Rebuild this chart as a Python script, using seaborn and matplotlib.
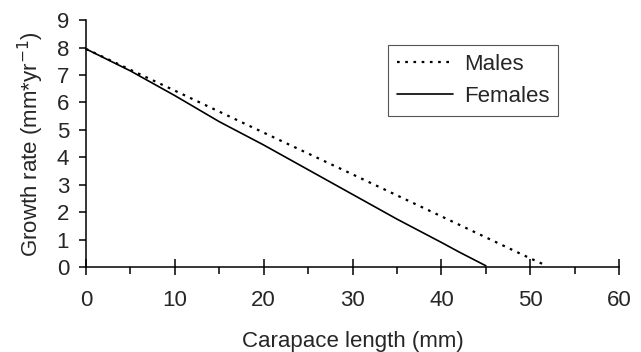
import matplotlib
matplotlib.use("Agg")
import matplotlib.pyplot as plt
import seaborn as sns
import pandas as pd
from matplotlib.ticker import MultipleLocator

male_x = [0, 10, 20, 30, 40, 50, 51.5]
male_y = [7.95, 6.43, 4.9, 3.38, 1.85, 0.32, 0.1]
female_x = [0, 5, 10, 15, 20, 25, 30, 35, 40, 42, 45]
female_y = [7.95, 7.15, 6.25, 5.3, 4.45, 3.55, 2.65, 1.75, 0.9, 0.55, 0.05]

sns.set_style("white")
plt.rcParams['font.family'] = ['Liberation Sans', 'DejaVu Sans']

FS = 16
fig = plt.figure(figsize=(6.41, 3.52), dpi=100)
ax = fig.add_axes([0.134, 0.241, 0.832, 0.702])

dm = pd.DataFrame({"x": male_x, "y": male_y})
df = pd.DataFrame({"x": female_x, "y": female_y})
sns.lineplot(data=dm, x="x", y="y", ax=ax, color="black", linestyle=(0, (1.2, 2.5)), linewidth=1.6, label="Males")
sns.lineplot(data=df, x="x", y="y", ax=ax, color="black", linestyle="-", linewidth=1.2, label="Females")

ax.set_xlim(0, 60)
ax.set_ylim(0, 9)
ax.xaxis.set_major_locator(MultipleLocator(10))
ax.xaxis.set_minor_locator(MultipleLocator(5))
ax.yaxis.set_major_locator(MultipleLocator(1))
for s in ["top", "right"]:
    ax.spines[s].set_visible(False)
for s in ["left", "bottom"]:
    ax.spines[s].set_color("black")
    ax.spines[s].set_linewidth(1.1)
ax.tick_params(axis="x", which="major", direction="inout", length=11, width=1.1, color="black", labelsize=FS, pad=11, bottom=True)
ax.tick_params(axis="x", which="minor", direction="out", length=5, width=1.1, color="black", bottom=True)
ax.tick_params(axis="y", which="major", direction="out", length=5, width=1.1, color="black", labelsize=FS, left=True, pad=7)
for l in ax.lines:
    l.set_clip_on(False)

ax.set_xlabel("Carapace length (mm)", fontsize=FS, labelpad=14)
ax.set_ylabel("Growth rate (mm*yr$^{-1}$)", fontsize=FS, labelpad=8)

leg = ax.legend(loc="upper left", bbox_to_anchor=(0.567, 0.899), frameon=True, fancybox=False,
                edgecolor="#555555", fontsize=FS, handlelength=2.5, handletextpad=0.5,
                borderpad=0.4, labelspacing=0.5, borderaxespad=0, framealpha=1)
leg.get_frame().set_linewidth(0.8)

fig.savefig("out.png", dpi=100)
